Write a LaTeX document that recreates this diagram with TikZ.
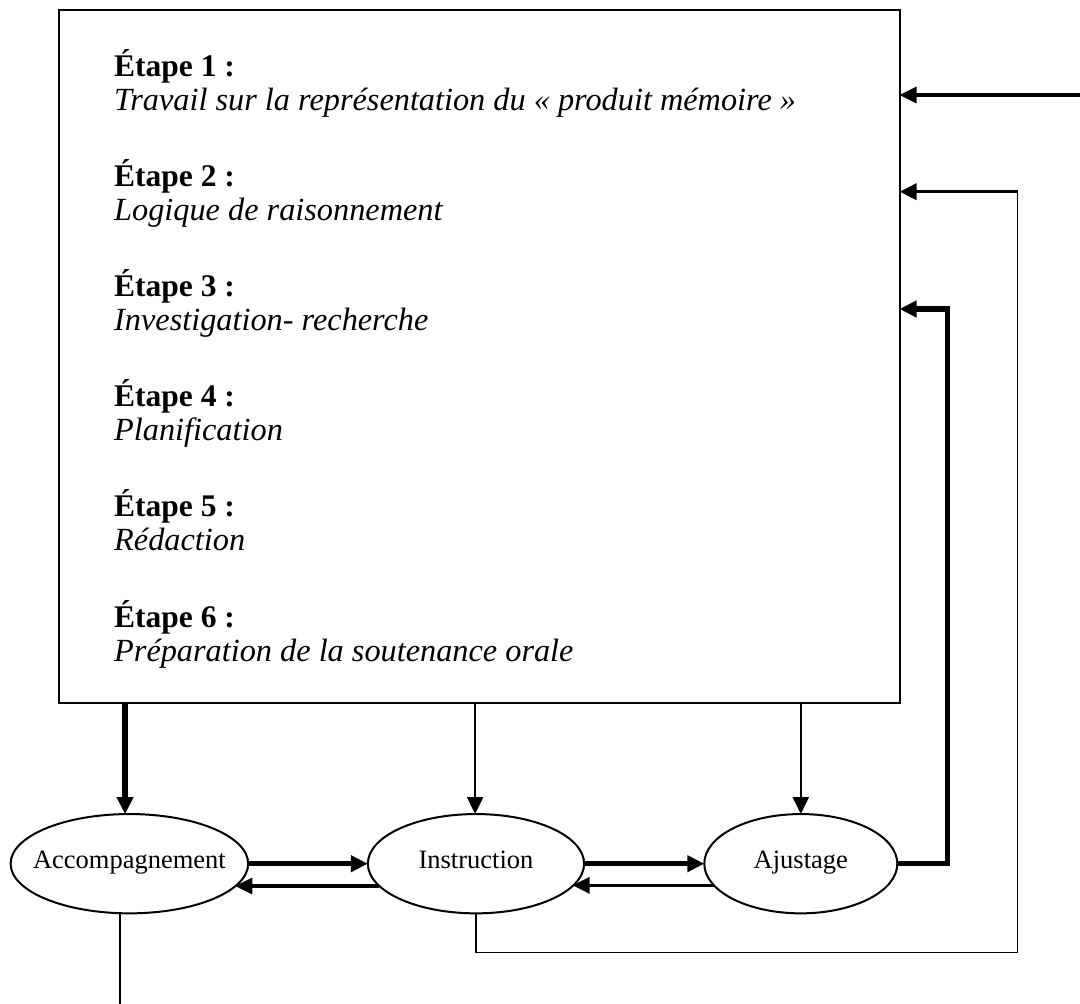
\documentclass[tikz,border=0pt]{standalone}
\usepackage{fontspec}
\setmainfont{Liberation Serif}
\usetikzlibrary{arrows.meta,shapes.geometric}
\begin{document}
\begin{tikzpicture}[x=1pt,y=-1pt,
  mainbox/.style={draw, line width=2pt, minimum width=840.5pt, minimum height=692.5pt, inner sep=0pt, outer sep=0pt},
  oval/.style={draw, ellipse, line width=2pt, inner sep=0pt, outer sep=0pt, minimum height=99.3pt, text height=14.6pt, text depth=6pt, font=\fontsize{26.5}{30}\selectfont},
  stepT/.style={anchor=base west, inner sep=0pt, font=\fontsize{31.5}{34}\selectfont\bfseries},
  stepD/.style={anchor=base west, inner sep=0pt, font=\fontsize{32.3}{34}\selectfont\itshape},
  lthick/.style={line width=5.5pt},
  lmed/.style={line width=3.2pt},
  lthin/.style={line width=2.2pt},
  lhair/.style={line width=1.5pt},
  arr/.style={-{Triangle[length=17pt,width=16pt]}}]
\useasboundingbox (0,0) rectangle (1080,1004);

% main box
\node[mainbox] (box) at (479.25,356.25) {};

% steps
\node[stepT] (e1) at (114,76) {Étape 1 :};
\node[stepD] (d1) at (114,110) {Travail sur la représentation du « produit mémoire »};
\node[stepT] (e2) at (114,186) {Étape 2 :};
\node[stepD] (d2) at (114,220) {Logique de raisonnement};
\node[stepT] (e3) at (114,296) {Étape 3 :};
\node[stepD] (d3) at (114,330) {Investigation- recherche};
\node[stepT] (e4) at (114,406) {Étape 4 :};
\node[stepD] (d4) at (114,440) {Planification};
\node[stepT] (e5) at (114,516) {Étape 5 :};
\node[stepD] (d5) at (114,550) {Rédaction};
\node[stepT] (e6) at (114,627) {Étape 6 :};
\node[stepD] (d6) at (114,661) {Préparation de la soutenance orale};

% ellipses
\node[oval, minimum width=237.6pt] (acc) at (129.4,863.7) {\makebox[0pt]{Accompagnement}};
\node[oval, minimum width=216.3pt] (inst) at (476,863.7) {\makebox[0pt]{Instruction}};
\node[oval, minimum width=193pt] (ajust) at (800.8,863.7) {\makebox[0pt]{Ajustage}};

% coordinates
\coordinate (c1) at (1080,95);
\coordinate (c2) at (1017.7,191.7);
\coordinate (c2b) at (1017.7,952.7);
\coordinate (c3) at (947.7,309);
\coordinate (accEnd) at (120,1004);

% box -> ellipses
\draw[lthick, arr] (box.south -| acc.95) -- (acc.95);
\draw[lthin, arr] (box.south -| inst.91) -- (inst.91);
\draw[lthin, arr] (box.south -| ajust.north) -- (ajust.north);

% between ellipses
\draw[lthick, arr] (acc.east) -- (inst.west);
\draw[lmed, arr] (inst.193) -- (acc.348 |- inst.193);
\draw[lthick, arr] (inst.east) -- (ajust.west);
\draw[lmed, arr] (ajust.194.5) -- (inst.347 |- ajust.194.5);

% feedback loops
\draw[lthick, arr] (ajust.east) -| (c3) -- (c3 -| box.east);
\draw[lhair] (inst.south) |- (c2b) -- (c2);
\draw[lmed, arr] (c2) -- (c2 -| box.east);
\draw[lmed, arr] (c1) -- (c1 -| box.east);

% tail from Accompagnement
\draw[lhair] (accEnd |- acc.south) -- (accEnd);
\end{tikzpicture}
\end{document}
